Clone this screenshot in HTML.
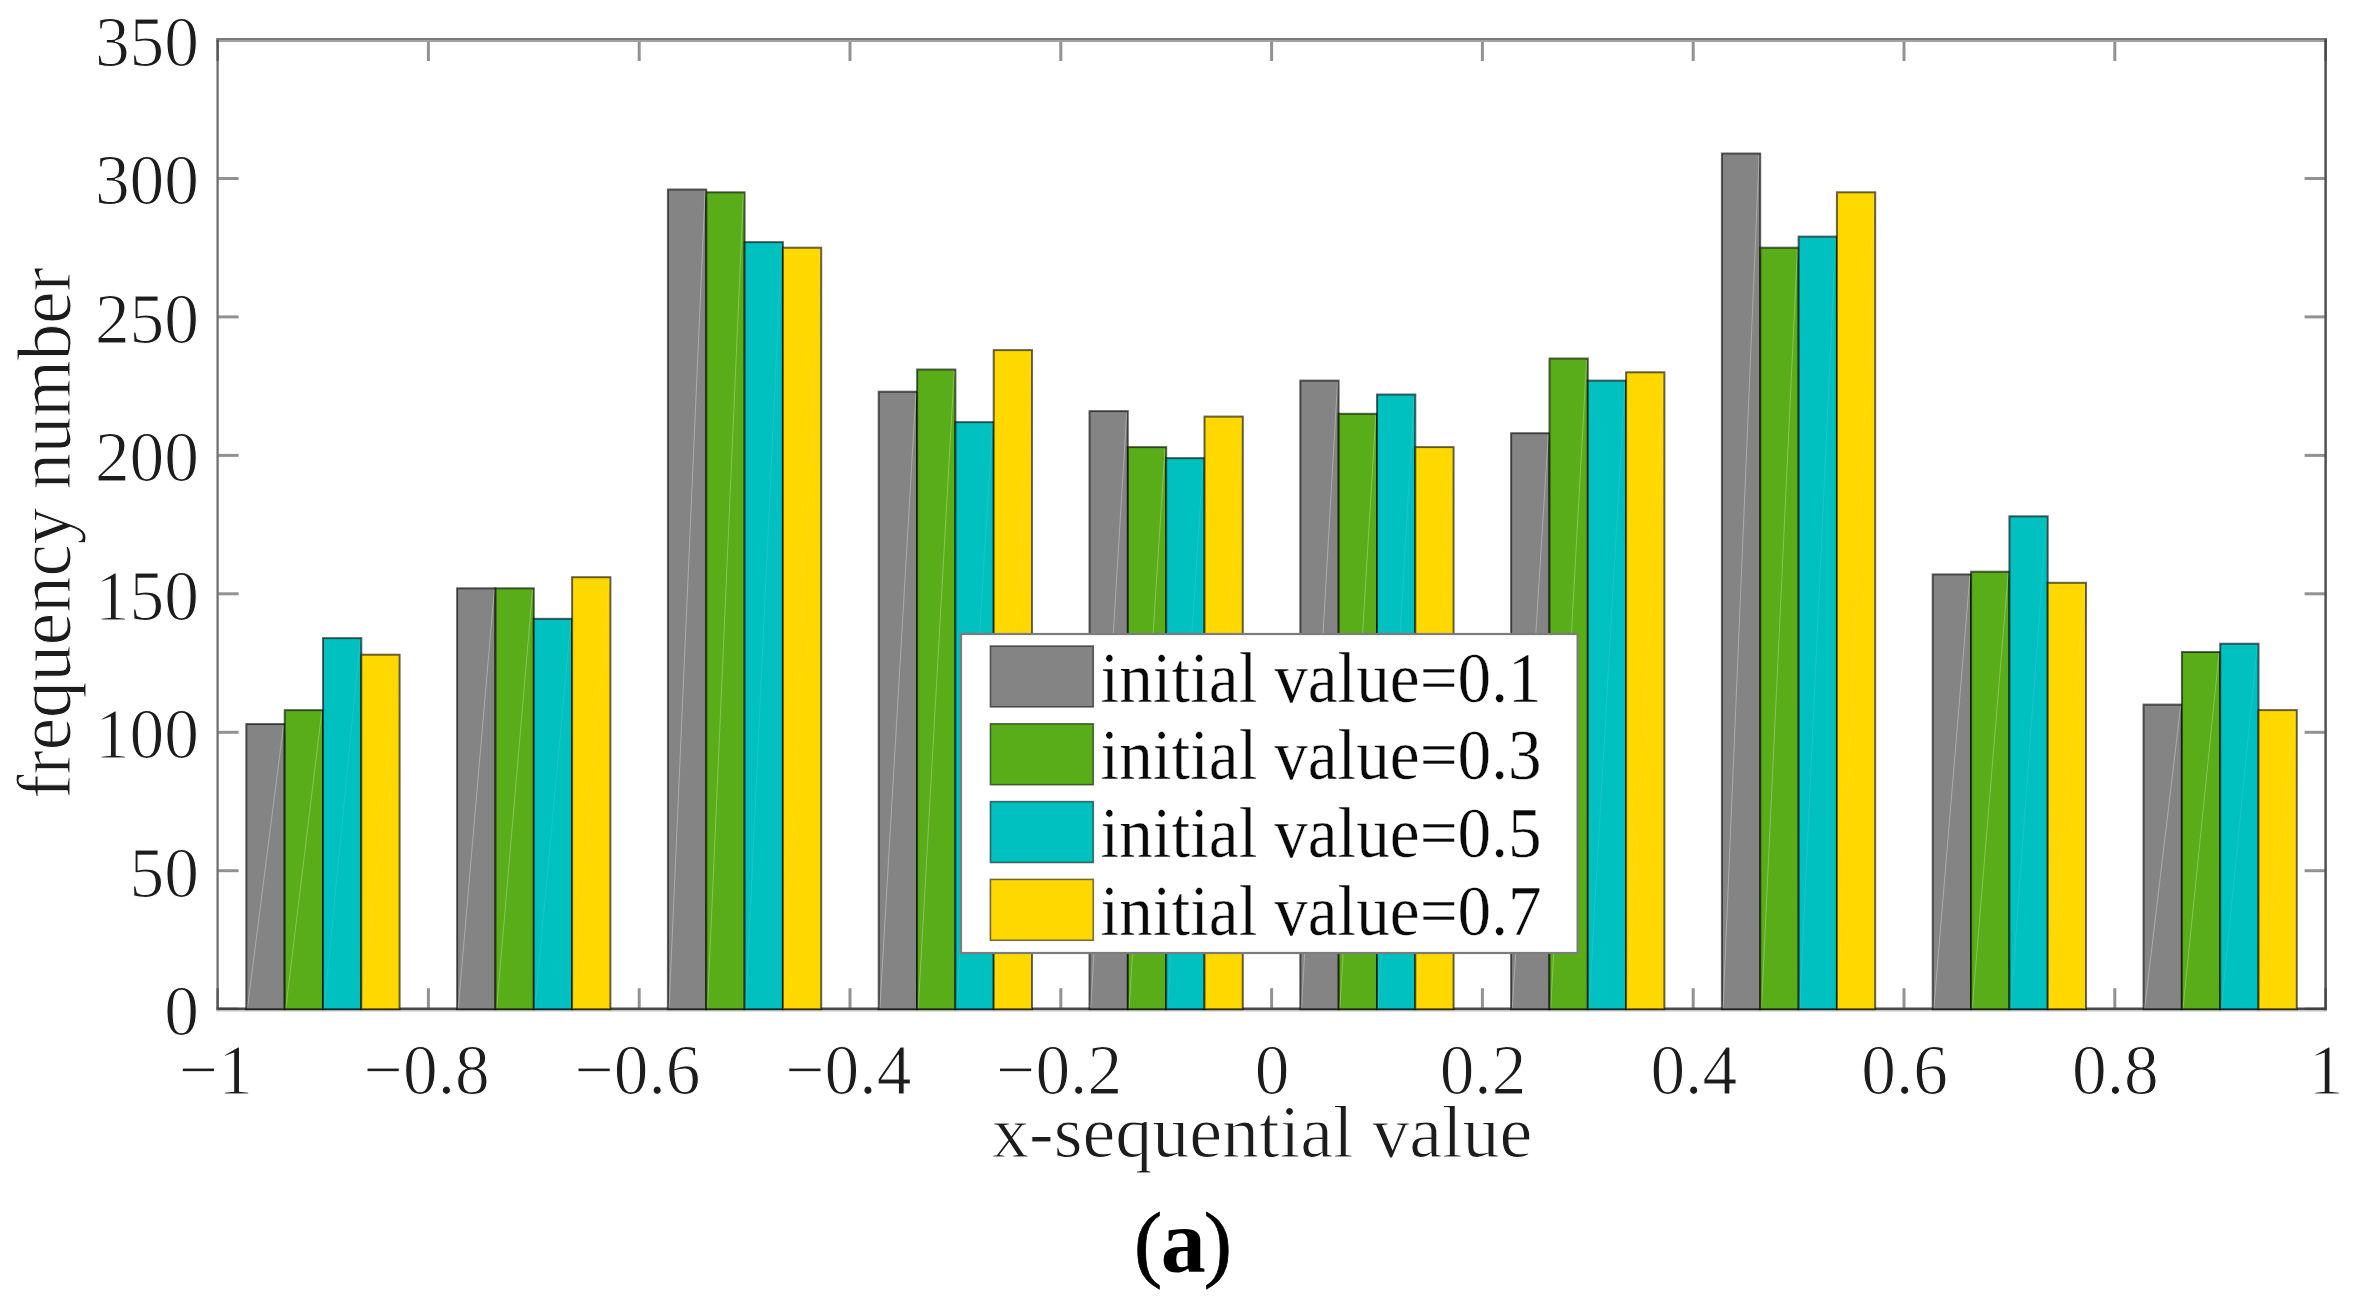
<!DOCTYPE html>
<html lang="en"><head><meta charset="utf-8"><title>Figure (a)</title>
<style>html,body{margin:0;padding:0;background:#fff;}svg{display:block;}text{font-family:"Liberation Serif","Times New Roman",serif;fill:#1c1c1c;stroke:#fff;stroke-width:1.0px;paint-order:fill stroke;}</style></head><body>
<svg width="2355" height="1302" viewBox="0 0 2355 1302">
<rect x="0" y="0" width="2355" height="1302" fill="#ffffff"/>
<g stroke="#929292" stroke-width="3" fill="none">
<line x1="428.4" y1="1009.2" x2="428.4" y2="988.2"/>
<line x1="428.4" y1="40.0" x2="428.4" y2="61.0"/>
<line x1="639.2" y1="1009.2" x2="639.2" y2="988.2"/>
<line x1="639.2" y1="40.0" x2="639.2" y2="61.0"/>
<line x1="850.0" y1="1009.2" x2="850.0" y2="988.2"/>
<line x1="850.0" y1="40.0" x2="850.0" y2="61.0"/>
<line x1="1060.8" y1="1009.2" x2="1060.8" y2="988.2"/>
<line x1="1060.8" y1="40.0" x2="1060.8" y2="61.0"/>
<line x1="1271.6" y1="1009.2" x2="1271.6" y2="988.2"/>
<line x1="1271.6" y1="40.0" x2="1271.6" y2="61.0"/>
<line x1="1482.4" y1="1009.2" x2="1482.4" y2="988.2"/>
<line x1="1482.4" y1="40.0" x2="1482.4" y2="61.0"/>
<line x1="1693.2" y1="1009.2" x2="1693.2" y2="988.2"/>
<line x1="1693.2" y1="40.0" x2="1693.2" y2="61.0"/>
<line x1="1904.0" y1="1009.2" x2="1904.0" y2="988.2"/>
<line x1="1904.0" y1="40.0" x2="1904.0" y2="61.0"/>
<line x1="2114.8" y1="1009.2" x2="2114.8" y2="988.2"/>
<line x1="2114.8" y1="40.0" x2="2114.8" y2="61.0"/>
<line x1="217.6" y1="870.7" x2="238.6" y2="870.7"/>
<line x1="2325.6" y1="870.7" x2="2304.6" y2="870.7"/>
<line x1="217.6" y1="732.3" x2="238.6" y2="732.3"/>
<line x1="2325.6" y1="732.3" x2="2304.6" y2="732.3"/>
<line x1="217.6" y1="593.8" x2="238.6" y2="593.8"/>
<line x1="2325.6" y1="593.8" x2="2304.6" y2="593.8"/>
<line x1="217.6" y1="455.4" x2="238.6" y2="455.4"/>
<line x1="2325.6" y1="455.4" x2="2304.6" y2="455.4"/>
<line x1="217.6" y1="316.9" x2="238.6" y2="316.9"/>
<line x1="2325.6" y1="316.9" x2="2304.6" y2="316.9"/>
<line x1="217.6" y1="178.5" x2="238.6" y2="178.5"/>
<line x1="2325.6" y1="178.5" x2="2304.6" y2="178.5"/>
</g>
<line x1="216.4" y1="39.1" x2="2326.8" y2="39.1" stroke="#7a7a7a" stroke-width="2"/>
<line x1="216.4" y1="41.0" x2="2326.8" y2="41.0" stroke="#a2a2a2" stroke-width="1.8"/>
<line x1="216.4" y1="1010.8" x2="2326.8" y2="1010.8" stroke="#c4c4c4" stroke-width="1.6"/>
<line x1="216.4" y1="1008.8" x2="2326.8" y2="1008.8" stroke="#4a4a4a" stroke-width="2.4"/>
<line x1="217.6" y1="38.5" x2="217.6" y2="1010.2" stroke="#707070" stroke-width="2.3"/>
<line x1="2325.6" y1="38.5" x2="2325.6" y2="1010.2" stroke="#505050" stroke-width="2.5"/>
<g stroke="#3c3c3c" stroke-width="2.5" stroke-opacity="0.55">
<line x1="217.6" y1="40.0" x2="217.6" y2="61.0"/>
<line x1="217.6" y1="1009.2" x2="217.6" y2="988.2"/>
<line x1="2325.6" y1="40.0" x2="2325.6" y2="61.0"/>
<line x1="2325.6" y1="1009.2" x2="2325.6" y2="988.2"/>
<line x1="217.6" y1="1008.8" x2="238.6" y2="1008.8"/>
<line x1="2325.6" y1="1008.8" x2="2304.6" y2="1008.8"/>
</g>
<g stroke="#000" stroke-opacity="0.6" stroke-width="2">
<rect x="246.3" y="724.0" width="38.3" height="285.2" fill="#848484"/>
<rect x="284.7" y="710.1" width="38.3" height="299.1" fill="#58ad18"/>
<rect x="323.0" y="638.1" width="38.3" height="371.1" fill="#00c0c0"/>
<rect x="361.3" y="654.7" width="38.3" height="354.5" fill="#ffd800"/>
<rect x="457.1" y="588.3" width="38.3" height="420.9" fill="#848484"/>
<rect x="495.5" y="588.3" width="38.3" height="420.9" fill="#58ad18"/>
<rect x="533.8" y="618.8" width="38.3" height="390.4" fill="#00c0c0"/>
<rect x="572.1" y="577.2" width="38.3" height="432.0" fill="#ffd800"/>
<rect x="667.9" y="189.5" width="38.3" height="819.7" fill="#848484"/>
<rect x="706.3" y="192.3" width="38.3" height="816.9" fill="#58ad18"/>
<rect x="744.6" y="242.1" width="38.3" height="767.1" fill="#00c0c0"/>
<rect x="782.9" y="247.7" width="38.3" height="761.5" fill="#ffd800"/>
<rect x="878.7" y="391.7" width="38.3" height="617.5" fill="#848484"/>
<rect x="917.1" y="369.5" width="38.3" height="639.7" fill="#58ad18"/>
<rect x="955.4" y="422.1" width="38.3" height="587.1" fill="#00c0c0"/>
<rect x="993.7" y="350.1" width="38.3" height="659.1" fill="#ffd800"/>
<rect x="1089.5" y="411.1" width="38.3" height="598.1" fill="#848484"/>
<rect x="1127.9" y="447.1" width="38.3" height="562.1" fill="#58ad18"/>
<rect x="1166.2" y="458.1" width="38.3" height="551.1" fill="#00c0c0"/>
<rect x="1204.5" y="416.6" width="38.3" height="592.6" fill="#ffd800"/>
<rect x="1300.3" y="380.6" width="38.3" height="628.6" fill="#848484"/>
<rect x="1338.7" y="413.8" width="38.3" height="595.4" fill="#58ad18"/>
<rect x="1377.0" y="394.5" width="38.3" height="614.7" fill="#00c0c0"/>
<rect x="1415.3" y="447.1" width="38.3" height="562.1" fill="#ffd800"/>
<rect x="1511.1" y="433.2" width="38.3" height="576.0" fill="#848484"/>
<rect x="1549.5" y="358.5" width="38.3" height="650.7" fill="#58ad18"/>
<rect x="1587.8" y="380.6" width="38.3" height="628.6" fill="#00c0c0"/>
<rect x="1626.1" y="372.3" width="38.3" height="636.9" fill="#ffd800"/>
<rect x="1721.9" y="153.5" width="38.3" height="855.7" fill="#848484"/>
<rect x="1760.3" y="247.7" width="38.3" height="761.5" fill="#58ad18"/>
<rect x="1798.6" y="236.6" width="38.3" height="772.6" fill="#00c0c0"/>
<rect x="1836.9" y="192.3" width="38.3" height="816.9" fill="#ffd800"/>
<rect x="1932.7" y="574.4" width="38.3" height="434.8" fill="#848484"/>
<rect x="1971.1" y="571.7" width="38.3" height="437.5" fill="#58ad18"/>
<rect x="2009.4" y="516.3" width="38.3" height="492.9" fill="#00c0c0"/>
<rect x="2047.7" y="582.8" width="38.3" height="426.4" fill="#ffd800"/>
<rect x="2143.5" y="704.6" width="38.3" height="304.6" fill="#848484"/>
<rect x="2181.9" y="652.0" width="38.3" height="357.2" fill="#58ad18"/>
<rect x="2220.2" y="643.7" width="38.3" height="365.5" fill="#00c0c0"/>
<rect x="2258.5" y="710.1" width="38.3" height="299.1" fill="#ffd800"/>
</g>
<g stroke="#fff" stroke-opacity="0.36" stroke-width="0.9" fill="none">
<line x1="247.5" y1="1007.7" x2="283.5" y2="725.5"/>
<line x1="458.3" y1="1007.7" x2="494.3" y2="589.8"/>
<line x1="669.1" y1="1007.7" x2="705.1" y2="191.0"/>
<line x1="879.9" y1="1007.7" x2="915.9" y2="393.2"/>
<line x1="1090.7" y1="1007.7" x2="1126.7" y2="412.6"/>
<line x1="1301.5" y1="1007.7" x2="1337.5" y2="382.1"/>
<line x1="1512.3" y1="1007.7" x2="1548.3" y2="434.7"/>
<line x1="1723.1" y1="1007.7" x2="1759.1" y2="155.0"/>
<line x1="1933.9" y1="1007.7" x2="1969.9" y2="575.9"/>
<line x1="2144.7" y1="1007.7" x2="2180.7" y2="706.1"/>
</g>
<g stroke="#fff" stroke-opacity="0.32" stroke-width="0.9" fill="none">
<line x1="285.9" y1="1007.7" x2="321.8" y2="711.6"/>
<line x1="496.7" y1="1007.7" x2="532.6" y2="589.8"/>
<line x1="707.5" y1="1007.7" x2="743.4" y2="193.8"/>
<line x1="918.3" y1="1007.7" x2="954.2" y2="371.0"/>
<line x1="1129.1" y1="1007.7" x2="1165.0" y2="448.6"/>
<line x1="1339.9" y1="1007.7" x2="1375.8" y2="415.3"/>
<line x1="1550.7" y1="1007.7" x2="1586.6" y2="360.0"/>
<line x1="1761.5" y1="1007.7" x2="1797.4" y2="249.2"/>
<line x1="1972.3" y1="1007.7" x2="2008.2" y2="573.2"/>
<line x1="2183.1" y1="1007.7" x2="2219.0" y2="653.5"/>
</g>
<g stroke="#fff" stroke-opacity="0.12" stroke-width="0.9" fill="none">
<line x1="324.2" y1="1007.7" x2="360.1" y2="639.6"/>
<line x1="535.0" y1="1007.7" x2="570.9" y2="620.3"/>
<line x1="745.8" y1="1007.7" x2="781.7" y2="243.6"/>
<line x1="956.6" y1="1007.7" x2="992.5" y2="423.6"/>
<line x1="1167.4" y1="1007.7" x2="1203.3" y2="459.6"/>
<line x1="1378.2" y1="1007.7" x2="1414.1" y2="396.0"/>
<line x1="1589.0" y1="1007.7" x2="1624.9" y2="382.1"/>
<line x1="1799.8" y1="1007.7" x2="1835.7" y2="238.1"/>
<line x1="2010.6" y1="1007.7" x2="2046.5" y2="517.8"/>
<line x1="2221.4" y1="1007.7" x2="2257.3" y2="645.2"/>
</g>
<g stroke="#fff" stroke-opacity="0.1" stroke-width="0.9" fill="none">
<line x1="362.5" y1="1007.7" x2="398.5" y2="656.2"/>
<line x1="573.3" y1="1007.7" x2="609.3" y2="578.7"/>
<line x1="784.1" y1="1007.7" x2="820.1" y2="249.2"/>
<line x1="994.9" y1="1007.7" x2="1030.9" y2="351.6"/>
<line x1="1205.7" y1="1007.7" x2="1241.7" y2="418.1"/>
<line x1="1416.5" y1="1007.7" x2="1452.5" y2="448.6"/>
<line x1="1627.3" y1="1007.7" x2="1663.3" y2="373.8"/>
<line x1="1838.1" y1="1007.7" x2="1874.1" y2="193.8"/>
<line x1="2048.9" y1="1007.7" x2="2084.9" y2="584.3"/>
<line x1="2259.7" y1="1007.7" x2="2295.7" y2="711.6"/>
</g>
<g font-size="69.4" text-anchor="end">
<text transform="translate(199,1035.1) scale(1,1.045)">0</text>
<text transform="translate(199,896.6) scale(1,1.045)">50</text>
<text transform="translate(199,758.2) scale(1,1.045)">100</text>
<text transform="translate(199,619.7) scale(1,1.045)">150</text>
<text transform="translate(199,481.3) scale(1,1.045)">200</text>
<text transform="translate(199,342.8) scale(1,1.045)">250</text>
<text transform="translate(199,204.4) scale(1,1.045)">300</text>
<text transform="translate(199,65.9) scale(1,1.045)">350</text>
</g>
<g font-size="69.4" text-anchor="middle">
<text transform="translate(216.0,1093.8) scale(1,1.045)">−1</text>
<text transform="translate(426.8,1093.8) scale(1,1.045)">−0.8</text>
<text transform="translate(637.6,1093.8) scale(1,1.045)">−0.6</text>
<text transform="translate(848.4,1093.8) scale(1,1.045)">−0.4</text>
<text transform="translate(1059.2,1093.8) scale(1,1.045)">−0.2</text>
<text transform="translate(1272.2,1093.8) scale(1,1.045)">0</text>
<text transform="translate(1483.0,1093.8) scale(1,1.045)">0.2</text>
<text transform="translate(1693.8,1093.8) scale(1,1.045)">0.4</text>
<text transform="translate(1904.6,1093.8) scale(1,1.045)">0.6</text>
<text transform="translate(2115.4,1093.8) scale(1,1.045)">0.8</text>
<text transform="translate(2326.2,1093.8) scale(1,1.045)">1</text>
</g>
<text x="1262.2" y="1156.6" font-size="74.0" text-anchor="middle">x-sequential value</text>
<text transform="translate(70.4,533) rotate(-90) scale(0.954,1)" font-size="76.3" text-anchor="middle">frequency number</text>
<rect x="961" y="634" width="616.6" height="319" fill="#fff" stroke="#7c7c7c" stroke-width="2.2"/>
<g stroke="#000" stroke-opacity="0.55" stroke-width="1.6">
<rect x="990.4" y="646.0" width="102.9" height="60.9" fill="#848484"/>
<rect x="990.4" y="723.8" width="102.9" height="60.9" fill="#58ad18"/>
<rect x="990.4" y="801.6" width="102.9" height="60.9" fill="#00c0c0"/>
<rect x="990.4" y="879.4" width="102.9" height="60.9" fill="#ffd800"/>
</g>
<g font-size="72.8">
<text transform="translate(1100.6,701.5) scale(0.923,1)" style="fill:#0a0a0a;stroke-width:0.4px">initial value=0.1</text>
<text transform="translate(1100.6,779.3) scale(0.923,1)" style="fill:#0a0a0a;stroke-width:0.4px">initial value=0.3</text>
<text transform="translate(1100.6,857.1) scale(0.923,1)" style="fill:#0a0a0a;stroke-width:0.4px">initial value=0.5</text>
<text transform="translate(1100.6,934.9) scale(0.923,1)" style="fill:#0a0a0a;stroke-width:0.4px">initial value=0.7</text>
</g>
<text x="1133.9" y="1270.6" font-size="84.5" style="fill:#000;stroke:#000;stroke-width:0.7px">(<tspan dx="-1.2" dy="1.2" font-size="90" font-weight="bold" style="stroke:none">a</tspan><tspan dx="-2.2" dy="-1.2">)</tspan></text>
</svg></body></html>
